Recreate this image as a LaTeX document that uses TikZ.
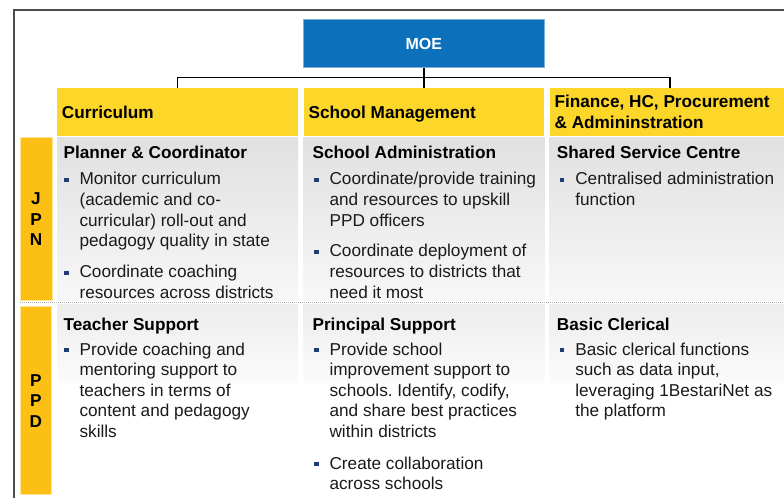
\documentclass[tikz,border=0pt]{standalone}
\usepackage{fontspec}
\setmainfont{Liberation Sans}
\frenchspacing
\definecolor{moeblue}{RGB}{12,113,186}
\definecolor{hdryellow}{RGB}{253,214,42}
\definecolor{sideyellow}{RGB}{252,192,20}
\definecolor{bulletblue}{RGB}{31,59,115}
\definecolor{txtcol}{RGB}{26,26,26}
\newcommand{\bodyfnt}{\fontsize{12.9}{15.5}\selectfont}
\newcommand{\linesat}[4]{%
  \foreach \lntext [count=\ii] in {#4} {
    \node[bodytxt] (#1-\ii) at (#2,{#3+(\ii-1)*20.65}) {\lntext};
  }}
\newcommand{\bulletat}[4]{%
  \node[bulletsq] (#1-b) at ({#2-12.8},{#3-5.3}) {};
  \linesat{#1}{#2}{#3}{#4}}
\begin{document}
\begin{tikzpicture}[x=0.75pt,y=-0.75pt,
  bodytxt/.style={anchor=base west, inner sep=0pt, font=\bodyfnt\frenchspacing, text=txtcol},
  headtxt/.style={anchor=base west, inner sep=0pt, font=\bodyfnt\bfseries, text=black},
  bulletsq/.style={fill=bulletblue, inner sep=0pt, minimum size=3.1pt, draw=none},
  hdrbox/.style={fill=hdryellow, draw=none, inner sep=0pt, minimum height=36pt},
  sidebox/.style={fill=sideyellow, draw=sideyellow!45!white, line width=0.6pt},
  conn/.style={draw=black, line width=1.1pt, line join=miter},
  sidetxt/.style={font=\bodyfnt\bfseries, anchor=base, inner sep=0pt, text=black}]
\useasboundingbox (0,0) rectangle (784,498);
\fill[white] (0,0) rectangle (784,498);
\draw[gray!60!black, line width=0.8pt] (14,498) -- (14,10) -- (784,10);

% panels
\shade[top color=gray!24, bottom color=gray!6] (57.3,137.5) rectangle (298,301);
\shade[top color=gray!24, bottom color=gray!6] (303.7,137.5) rectangle (544.3,301);
\shade[top color=gray!24, bottom color=gray!6] (549.7,137.5) rectangle (784,301);
\shade[top color=gray!14, bottom color=gray!3] (57.3,305) rectangle (298,382);
\shade[top color=gray!14, bottom color=gray!3] (303.7,305) rectangle (544.3,382);
\shade[top color=gray!14, bottom color=gray!3] (549.7,305) rectangle (784,382);

\draw[gray!60, line width=0.75pt, dash pattern=on 0.75pt off 0.75pt] (20,302.5) -- (784,302.5);

% MOE
\node[rectangle, fill=moeblue, draw=moeblue!55!white, line width=0.6pt,
  minimum width=180.75pt, minimum height=36.3pt, inner sep=0pt, text=white,
  font=\fontsize{12}{14}\selectfont\bfseries] (moe) at (423.8,43.5) {MOE};

% headers
\node[hdrbox, minimum width=180.5pt] (cur) at (177.65,112) {};
\node[hdrbox, minimum width=180.45pt] (sm) at (424,112) {};
\node[hdrbox, minimum width=175.7pt] (fin) at (666.85,112) {};

\coordinate (bus) at (0,77.7);
\coordinate (finTop) at ([xshift=2.4pt]fin.north);
\draw[conn] (moe.south) -- (moe.south |- sm.north);
\draw[conn] (cur.north) -- (cur.north |- bus) -- (finTop |- bus) -- (finTop);

\node[headtxt] (curT) at (61.7,119) {Curriculum};
\node[headtxt] (smT) at (308.3,119) {School Management};
\node[headtxt] (finT1) at (554.3,108) {Finance, HC, Procurement};
\node[headtxt] (finT2) at (554.3,129) {\& Admininstration};

% side labels
\draw[sidebox] (20,137) rectangle (52,300);
\draw[sidebox] (20,306.7) rectangle (51.5,494);
\node[sidetxt] (j1) at (36,205) {J};
\node[sidetxt] (j2) at (36,225.5) {P};
\node[sidetxt] (j3) at (36,246) {N};
\node[sidetxt] (p1) at (35.8,386) {P};
\node[sidetxt] (p2) at (35.8,406.7) {P};
\node[sidetxt] (p3) at (35.8,427.5) {D};

% JPN row
\node[headtxt] (h1) at (63.3,159) {Planner \& Coordinator};
\bulletat{a1}{79.3}{185}{{Monitor curriculum},{(academic and co-},{curricular) roll-out and},{pedagogy quality in state}}
\bulletat{a2}{79.3}{278}{{Coordinate coaching},{resources across districts}}

\node[headtxt] (h2) at (312.3,159) {School Administration};
\bulletat{b1}{329.3}{185}{{Coordinate/provide training},{and resources to upskill},{PPD officers}}
\bulletat{b2}{329.3}{257}{{Coordinate deployment of},{resources to districts that},{need it most}}

\node[headtxt] (h3) at (556.7,159) {Shared Service Centre};
\bulletat{c1}{575}{185}{{Centralised administration},{function}}

% PPD row
\node[headtxt] (h4) at (63.3,330) {Teacher Support};
\bulletat{d1}{79.3}{355}{{Provide coaching and},{mentoring support to},{teachers in terms of},{content and pedagogy},{skills}}

\node[headtxt] (h5) at (312.3,330) {Principal Support};
\bulletat{e1}{329.3}{355}{{Provide school},{improvement support to},{schools. Identify, codify,},{and share best practices},{within districts}}
\bulletat{e2}{329.3}{469}{{Create collaboration},{across schools}}

\node[headtxt] (h6) at (556.7,330) {Basic Clerical};
\bulletat{f1}{575}{355}{{Basic clerical functions},{such as data input,},{leveraging 1BestariNet as},{the platform}}
\end{tikzpicture}
\end{document}
